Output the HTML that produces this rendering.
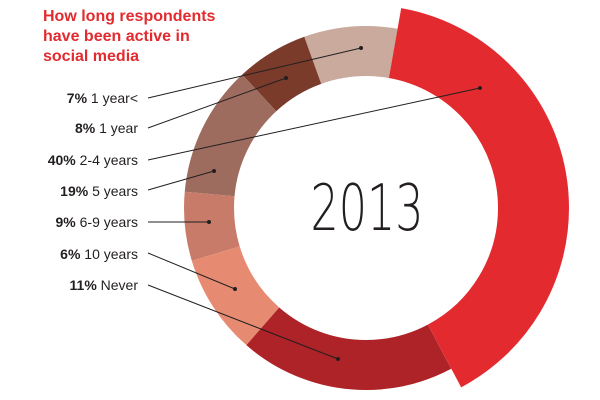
<!DOCTYPE html>
<html><head><style>
body{margin:0;background:#fff;}
svg{display:block;font-family:"Liberation Sans",sans-serif;}
.l{font-size:14px;fill:#231f20;text-anchor:end;}
.l tspan.b{font-weight:bold;}
.t{font-size:16px;font-weight:bold;fill:#e32b2f;}
</style></head><body>
<svg width="600" height="400" viewBox="0 0 600 400">
<g transform="rotate(-90 366 208)" fill="none">
<circle cx="366" cy="208" r="157" stroke="#c9aa9c" stroke-width="50" stroke-dasharray="82.2 1000" stroke-dashoffset="-931.7"/>
<circle cx="366" cy="208" r="157" stroke="#c9aa9c" stroke-width="50" stroke-dasharray="27.4 1000" stroke-dashoffset="0"/>
<circle cx="366" cy="208" r="157" stroke="#7b3b2b" stroke-width="50" stroke-dasharray="63 1000" stroke-dashoffset="-868.7"/>
<circle cx="366" cy="208" r="157" stroke="#9d6c5f" stroke-width="50" stroke-dasharray="115.1 1000" stroke-dashoffset="-753.6"/>
<circle cx="366" cy="208" r="157" stroke="#c97b6a" stroke-width="50" stroke-dasharray="60.3 1000" stroke-dashoffset="-693.3"/>
<circle cx="366" cy="208" r="157" stroke="#e68b72" stroke-width="50" stroke-dasharray="87.7 1000" stroke-dashoffset="-605.6"/>
<circle cx="366" cy="208" r="157" stroke="#ad2328" stroke-width="50" stroke-dasharray="189.1 1000" stroke-dashoffset="-416.5"/>
<circle cx="366" cy="208" r="167.5" stroke="#e32b2f" stroke-width="71" stroke-dasharray="415.1 1100" stroke-dashoffset="-29.2"/>
</g>
<text x="367" y="230" font-size="64" fill="#231f20" text-anchor="middle" style="font-family:'DejaVu Sans','Liberation Sans',sans-serif;font-weight:200" textLength="113" lengthAdjust="spacingAndGlyphs">2013</text>
<g stroke="#231f20" stroke-width="1">
<line x1="148" y1="98" x2="361" y2="48"/>
<line x1="148" y1="128" x2="286" y2="78"/>
<line x1="148" y1="160" x2="480" y2="88"/>
<line x1="148" y1="190" x2="214" y2="171"/>
<line x1="148" y1="222" x2="209" y2="222"/>
<line x1="148" y1="253" x2="235" y2="289"/>
<line x1="148" y1="285" x2="338" y2="359"/>
</g>
<g fill="#231f20">
<circle cx="361" cy="48" r="2"/><circle cx="286" cy="78" r="2"/><circle cx="480" cy="88" r="2"/>
<circle cx="214" cy="171" r="2"/><circle cx="209" cy="222" r="2"/><circle cx="235" cy="289" r="2"/><circle cx="338" cy="359" r="2"/>
</g>
<text class="t" x="43" y="21">How long respondents</text>
<text class="t" x="43" y="41">have been active in</text>
<text class="t" x="43" y="61">social media</text>
<text class="l" x="138" y="103"><tspan class="b">7%</tspan> 1 year&lt;</text>
<text class="l" x="138" y="133"><tspan class="b">8%</tspan> 1 year</text>
<text class="l" x="138" y="165"><tspan class="b">40%</tspan> 2-4 years</text>
<text class="l" x="138" y="196"><tspan class="b">19%</tspan> 5 years</text>
<text class="l" x="138" y="227"><tspan class="b">9%</tspan> 6-9 years</text>
<text class="l" x="138" y="259"><tspan class="b">6%</tspan> 10 years</text>
<text class="l" x="138" y="290"><tspan class="b">11%</tspan> Never</text>
</svg>
</body></html>
